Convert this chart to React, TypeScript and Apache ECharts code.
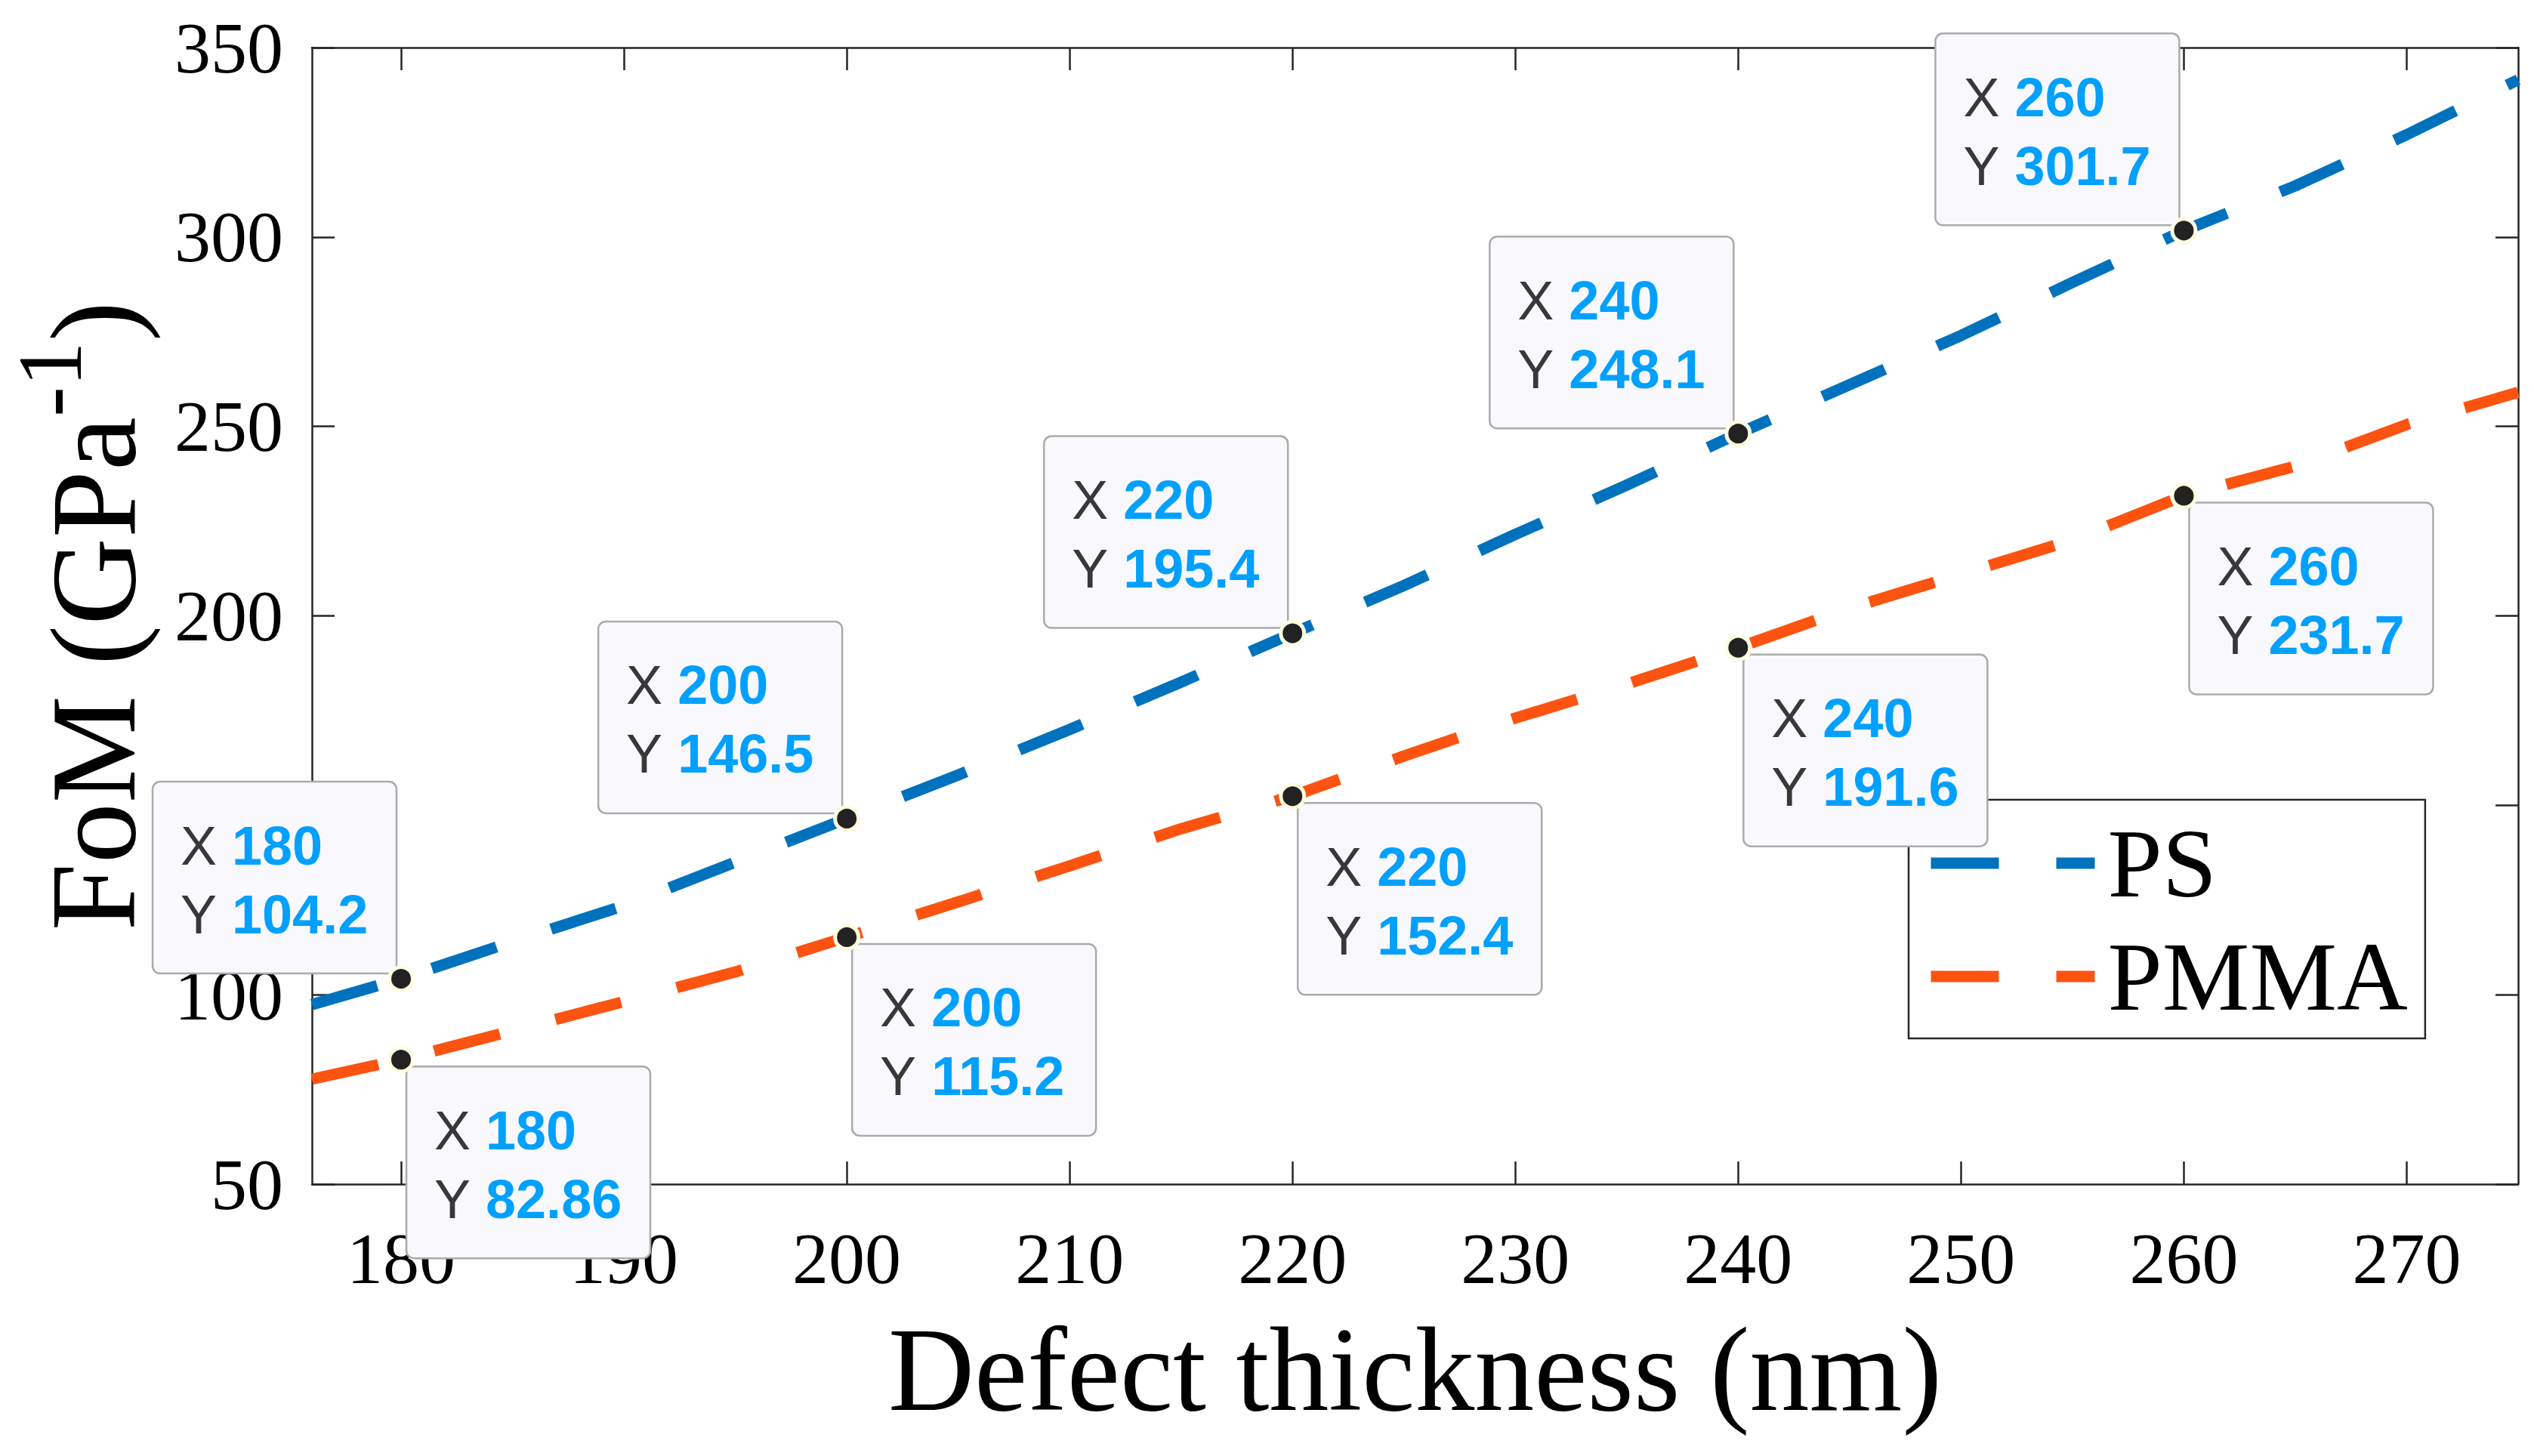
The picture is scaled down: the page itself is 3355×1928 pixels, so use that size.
import { useEffect, useRef } from 'react';
import * as echarts from 'echarts';

// Defect thickness (nm) sampled along both curves
const thickness = [176, 180, 185, 190, 195, 200, 205, 210, 215, 220, 225, 230, 235, 240, 245, 250, 255, 260, 265, 270, 275];
const psFoM = [97.4, 104.2, 114, 123.5, 135, 146.5, 158, 170, 182.5, 195.4, 208, 221.5, 234.5, 248.1, 261, 274, 288, 301.7, 313.5, 327, 341.5];
const pmmaFoM = [77.7, 82.86, 90.5, 98.2, 106, 115.2, 124.5, 134, 143.8, 152.4, 163, 173, 182, 191.6, 202, 211, 220, 231.7, 239.5, 250.5, 259];

// Data tips
const tipX = [180, 200, 220, 240, 260];
const psTipY = [104.2, 146.5, 195.4, 248.1, 301.7];
const pmmaTipY = [82.86, 115.2, 152.4, 191.6, 231.7];

const xTicks = [180, 190, 200, 210, 220, 230, 240, 250, 260, 270];

const SERIF = '"Liberation Serif", "Times New Roman", serif';
const SANS = '"Liberation Sans", Arial, sans-serif';
const AXIS = '#262626';
const PS_COLOR = '#0072BD';
const PMMA_COLOR = '#FC5410';

const TIP_W = 323;
const TIP_H = 254;

// datatip: dot plus a box whose corner sits next to the dot
const tipRenderer = (above: boolean) => (params: any, api: any) => {
  const xv = api.value(0);
  const yv = api.value(1);
  const [px, py] = api.coord([xv, yv]);
  const bx = above ? px - 6 - TIP_W : px + 7;
  const by = above ? py - 7 - TIP_H : py + 9;
  return {
    type: 'group',
    children: [
      {
        type: 'rect',
        shape: { x: bx, y: by, width: TIP_W, height: TIP_H, r: 10 },
        style: { fill: '#F9F9FD', stroke: '#ABABAB', lineWidth: 2.5 },
        z2: 1,
      },
      {
        type: 'text',
        x: bx + 37,
        y: by + 39,
        style: {
          text: `{k|X} {v|${xv}}\n{k|Y} {v|${yv}}`,
          fontFamily: SANS,
          fontSize: 72,
          lineHeight: 91,
          fill: '#383838',
          align: 'left',
          verticalAlign: 'top',
          rich: {
            k: { fontFamily: SANS, fontSize: 72, lineHeight: 91, fill: '#383838' },
            v: { fontFamily: SANS, fontSize: 72, lineHeight: 91, fill: '#00A0FF', fontWeight: 'bold' },
          },
        },
        z2: 2,
      },
      {
        type: 'circle',
        shape: { cx: px, cy: py, r: 15.5 },
        style: { fill: '#222222', stroke: '#FFFDE0', lineWidth: 5 },
        z2: 3,
      },
    ],
  };
};

export default function App() {
  const chartRef = useRef<HTMLDivElement>(null);

  useEffect(() => {
    if (!chartRef.current) return;
    const chart = echarts.init(chartRef.current, null, { renderer: 'svg' });

    const axisLine = { show: true, lineStyle: { color: AXIS, width: 2.5 } };
    const tick = { show: true, inside: true, length: 30, lineStyle: { color: AXIS, width: 2.5 } };

    const option: any = {
      animation: false,
      backgroundColor: '#fff',
      grid: { left: 413, right: 21, top: 63, bottom: 360, outerBoundsMode: 'none', containLabel: false },
      legend: {
        data: ['PS', 'PMMA'],
        orient: 'vertical',
        left: 2527,
        top: 1059,
        itemWidth: 217,
        itemHeight: 20,
        itemGap: 20,
        padding: [19, 23, 17, 22],
        backgroundColor: '#fff',
        borderColor: AXIS,
        borderWidth: 2.5,
        lineStyle: { width: 15 },
        itemStyle: { opacity: 0 },
        textStyle: { fontFamily: SERIF, fontSize: 130, color: '#000', padding: [0, 0, 0, 12] },
        z: 4,
      },
      xAxis: [
        {
          type: 'value',
          min: 176,
          max: 275,
          position: 'bottom',
          z: -1,
          name: 'Defect thickness (nm)',
          nameLocation: 'middle',
          nameGap: 166,
          nameTextStyle: { fontFamily: SERIF, fontSize: 158, color: '#000' },
          axisLine,
          axisTick: { ...tick, customValues: xTicks },
          axisLabel: { customValues: xTicks, margin: 50, fontFamily: SERIF, fontSize: 96, color: '#000' },
          splitLine: { show: false },
        },
        {
          type: 'value',
          min: 176,
          max: 275,
          position: 'top',
          z: -1,
          axisLine,
          axisTick: { ...tick, customValues: xTicks },
          axisLabel: { show: false, customValues: xTicks },
          splitLine: { show: false },
        },
      ],
      yAxis: [
        {
          type: 'value',
          min: 50,
          max: 350,
          interval: 50,
          position: 'left',
          z: -1,
          name: '{m|FoM (GPa}{s|-1}{m|)}',
          nameLocation: 'middle',
          nameGap: 209,
          nameTextStyle: {
            fontFamily: SERIF,
            fontSize: 160,
            color: '#000',
            rich: {
              m: { fontFamily: SERIF, fontSize: 160, lineHeight: 160, verticalAlign: 'bottom', color: '#000' },
              s: { fontFamily: SERIF, fontSize: 120, verticalAlign: 'bottom', padding: [0, 0, 78, 0], color: '#000' },
            },
          },
          axisLine,
          axisTick: tick,
          axisLabel: { margin: 38, fontFamily: SERIF, fontSize: 96, color: '#000' },
          splitLine: { show: false },
        },
        {
          type: 'value',
          min: 50,
          max: 350,
          interval: 50,
          position: 'right',
          z: -1,
          axisLine,
          axisTick: tick,
          axisLabel: { show: false },
          splitLine: { show: false },
        },
      ],
      series: [
        {
          name: 'PS',
          type: 'line',
          data: thickness.map((t, i) => [t, psFoM[i]]),
          symbol: 'none',
          lineStyle: { color: PS_COLOR, width: 15, type: [90, 76], cap: 'butt' },
          itemStyle: { color: PS_COLOR },
          silent: true,
          z: 2,
        },
        {
          name: 'PMMA',
          type: 'line',
          data: thickness.map((t, i) => [t, pmmaFoM[i]]),
          symbol: 'none',
          lineStyle: { color: PMMA_COLOR, width: 15, type: [90, 76], cap: 'butt' },
          itemStyle: { color: PMMA_COLOR },
          silent: true,
          z: 2,
        },
        {
          name: 'PS tips',
          type: 'custom',
          data: tipX.map((t, i) => [t, psTipY[i]]),
          renderItem: tipRenderer(true),
          clip: false,
          silent: true,
          z: 50,
        },
        {
          name: 'PMMA tips',
          type: 'custom',
          data: tipX.map((t, i) => [t, pmmaTipY[i]]),
          renderItem: tipRenderer(false),
          clip: false,
          silent: true,
          z: 50,
        },
      ],
    };

    chart.setOption(option);
    return () => chart.dispose();
  }, []);

  return (
    <div
      ref={chartRef}
      style={{ position: 'absolute', left: 0, top: 0, width: 3355, height: 1928, background: '#fff' }}
    />
  );
}
